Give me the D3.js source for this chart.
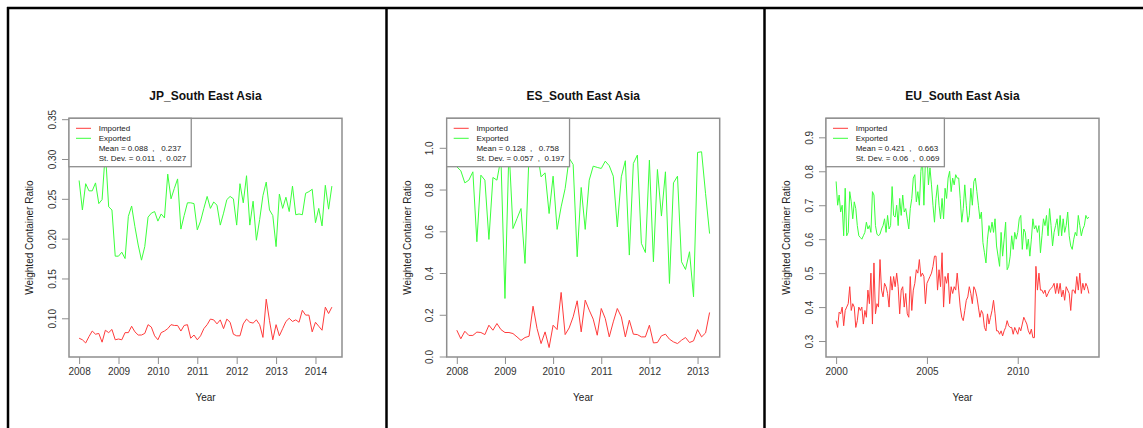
<!DOCTYPE html>
<html>
<head>
<meta charset="utf-8">
<script src="https://cdn.jsdelivr.net/npm/d3@7"></script>
<style>
  body { margin: 0; background: #fff; }
  text { font-family: "Liberation Sans", Arial, Helvetica, sans-serif; }
</style>
</head>
<body>
<script>
// Panel titles, first month of each series and the legend statistics.
const titles = ["JP_South East Asia", "ES_South East Asia", "EU_South East Asia"];
const startYears = [2008, 2008, 2000];
const meanText = ["Mean = 0.088  ,   0.237", "Mean = 0.128  ,   0.758", "Mean = 0.421  ,   0.663"];
const sdText = ["St. Dev. = 0.011  ,  0.027", "St. Dev. = 0.057  ,  0.197", "St. Dev. = 0.06  ,  0.069"];

// Axis ticks of each panel.
const xTicks = [[2008, 2009, 2010, 2011, 2012, 2013, 2014], [2008, 2009, 2010, 2011, 2012, 2013], [2000, 2005, 2010]];
const yTicks = [[0.10, 0.15, 0.20, 0.25, 0.30, 0.35], [0.0, 0.2, 0.4, 0.6, 0.8, 1.0], [0.3, 0.4, 0.5, 0.6, 0.7, 0.8, 0.9]];
const yFormats = [".2f", ".1f", ".1f"];
const yLimits = [[0.0625, 0.340], [0.040, 1.099], [0.279, 0.930]];

// Monthly weighted container ratios.
const jpImported = [0.075, 0.073, 0.069, 0.077, 0.084, 0.080, 0.081, 0.070, 0.085, 0.082, 0.086, 0.073,
  0.074, 0.073, 0.082, 0.082, 0.090, 0.083, 0.079, 0.079, 0.081, 0.092, 0.089, 0.078,
  0.073, 0.082, 0.084, 0.087, 0.092, 0.091, 0.091, 0.084, 0.091, 0.092, 0.075, 0.079,
  0.073, 0.078, 0.087, 0.092, 0.099, 0.098, 0.093, 0.098, 0.087, 0.099, 0.095, 0.080,
  0.078, 0.078, 0.093, 0.099, 0.095, 0.094, 0.098, 0.092, 0.076, 0.124, 0.097, 0.073,
  0.092, 0.078, 0.087, 0.096, 0.100, 0.096, 0.098, 0.095, 0.110, 0.104, 0.104, 0.083,
  0.095, 0.090, 0.085, 0.114, 0.106, 0.114];
const jpExported = [0.273, 0.236, 0.269, 0.260, 0.260, 0.270, 0.244, 0.249, 0.310, 0.240, 0.236, 0.178,
  0.178, 0.183, 0.175, 0.228, 0.241, 0.215, 0.192, 0.173, 0.190, 0.227, 0.232, 0.234,
  0.222, 0.231, 0.226, 0.281, 0.250, 0.263, 0.275, 0.212, 0.229, 0.245, 0.245, 0.244,
  0.211, 0.222, 0.238, 0.253, 0.238, 0.246, 0.242, 0.217, 0.232, 0.249, 0.253, 0.250,
  0.217, 0.269, 0.245, 0.279, 0.217, 0.247, 0.198, 0.224, 0.254, 0.271, 0.236, 0.229,
  0.190, 0.256, 0.238, 0.252, 0.234, 0.266, 0.230, 0.231, 0.230, 0.257, 0.259, 0.262,
  0.220, 0.238, 0.216, 0.267, 0.237, 0.266];

const esImported = [0.126, 0.085, 0.121, 0.101, 0.101, 0.117, 0.115, 0.105, 0.150, 0.126, 0.158, 0.129,
  0.115, 0.115, 0.110, 0.094, 0.077, 0.091, 0.097, 0.241, 0.134, 0.062, 0.118, 0.043,
  0.150, 0.129, 0.307, 0.105, 0.137, 0.190, 0.267, 0.118, 0.270, 0.222, 0.179, 0.102,
  0.230, 0.182, 0.094, 0.166, 0.230, 0.190, 0.094, 0.174, 0.107, 0.105, 0.094, 0.094,
  0.150, 0.065, 0.067, 0.099, 0.107, 0.083, 0.070, 0.062, 0.078, 0.091, 0.067, 0.075,
  0.129, 0.094, 0.113, 0.211];
const esExported = [0.909, 0.890, 0.832, 0.845, 0.885, 0.550, 0.869, 0.845, 0.561, 0.858, 0.845, 0.950,
  0.278, 1.000, 0.613, 0.661, 0.709, 0.446, 0.970, 1.050, 0.990, 0.861, 0.880, 0.685,
  0.864, 0.609, 0.717, 0.805, 0.950, 0.920, 0.478, 0.810, 0.609, 0.845, 0.912, 0.906,
  0.901, 0.936, 0.914, 0.864, 0.621, 0.861, 0.938, 0.486, 0.925, 0.965, 0.542, 0.498,
  0.941, 0.454, 0.896, 0.673, 0.885, 0.350, 0.832, 0.864, 0.454, 0.417, 0.502, 0.286,
  0.978, 0.981, 0.780, 0.589];

const euImported = [0.36, 0.34, 0.385, 0.38, 0.40, 0.345, 0.39, 0.40, 0.41, 0.46, 0.39, 0.41,
  0.40, 0.34, 0.36, 0.40, 0.39, 0.40, 0.35, 0.39, 0.37, 0.45, 0.41, 0.50,
  0.35, 0.53, 0.38, 0.41, 0.40, 0.54, 0.45, 0.43, 0.47, 0.46, 0.44, 0.40,
  0.49, 0.45, 0.49, 0.46, 0.50, 0.46, 0.38, 0.45, 0.46, 0.40, 0.44, 0.38,
  0.37, 0.49, 0.39, 0.45, 0.47, 0.51, 0.50, 0.54, 0.49, 0.50, 0.49, 0.41,
  0.47, 0.48, 0.49, 0.50, 0.52, 0.55, 0.55, 0.45, 0.51, 0.46, 0.56, 0.40,
  0.49, 0.47, 0.50, 0.41, 0.46, 0.44, 0.46, 0.45, 0.50, 0.45, 0.40, 0.37,
  0.36, 0.39, 0.42, 0.43, 0.46, 0.44, 0.41, 0.46, 0.45, 0.43, 0.40, 0.37,
  0.39, 0.38, 0.34, 0.33, 0.38, 0.35, 0.37, 0.39, 0.42, 0.38, 0.33, 0.33,
  0.32, 0.33, 0.315, 0.33, 0.34, 0.36, 0.345, 0.34, 0.34, 0.32, 0.34, 0.33,
  0.32, 0.34, 0.33, 0.35, 0.37, 0.36, 0.35, 0.33, 0.32, 0.335, 0.31, 0.31,
  0.52, 0.45, 0.50, 0.45, 0.45, 0.44, 0.45, 0.43, 0.44, 0.45, 0.455, 0.46,
  0.47, 0.44, 0.47, 0.44, 0.47, 0.43, 0.45, 0.42, 0.46, 0.45, 0.44, 0.39,
  0.45, 0.45, 0.44, 0.49, 0.45, 0.50, 0.44, 0.47, 0.45, 0.47, 0.46, 0.44];
const euExported = [0.77, 0.70, 0.73, 0.68, 0.70, 0.61, 0.75, 0.61, 0.62, 0.74, 0.71, 0.66,
  0.71, 0.69, 0.64, 0.61, 0.605, 0.60, 0.61, 0.62, 0.65, 0.63, 0.64, 0.62,
  0.74, 0.73, 0.64, 0.615, 0.61, 0.615, 0.63, 0.64, 0.66, 0.62, 0.67, 0.63,
  0.64, 0.755, 0.67, 0.665, 0.70, 0.64, 0.72, 0.67, 0.73, 0.68, 0.69, 0.66,
  0.63, 0.69, 0.72, 0.78, 0.79, 0.71, 0.74, 0.70, 0.80, 0.84, 0.70, 0.83,
  0.85, 0.76, 0.81, 0.76, 0.70, 0.65, 0.72, 0.76, 0.70, 0.66, 0.72, 0.66,
  0.75, 0.72, 0.78, 0.80, 0.74, 0.78, 0.76, 0.79, 0.78, 0.78, 0.72, 0.65,
  0.69, 0.76, 0.70, 0.65, 0.67, 0.75, 0.70, 0.77, 0.78, 0.74, 0.70, 0.66,
  0.68, 0.59, 0.56, 0.53, 0.60, 0.64, 0.62, 0.65, 0.62, 0.66, 0.58, 0.55,
  0.52, 0.62, 0.55, 0.60, 0.65, 0.51, 0.52, 0.55, 0.61, 0.57, 0.62, 0.60,
  0.62, 0.66, 0.67, 0.57, 0.63, 0.62, 0.57, 0.60, 0.55, 0.60, 0.66, 0.63,
  0.64, 0.62, 0.64, 0.56, 0.61, 0.66, 0.64, 0.67, 0.61, 0.69, 0.64, 0.58,
  0.62, 0.64, 0.66, 0.61, 0.67, 0.61, 0.66, 0.62, 0.64, 0.68, 0.61, 0.58,
  0.57, 0.60, 0.62, 0.61, 0.67, 0.64, 0.61, 0.63, 0.64, 0.67, 0.66, 0.665];

const importedSeries = [jpImported, esImported, euImported];
const exportedSeries = [jpExported, esExported, euExported];

const W = 1143, H = 428;
const boxLefts = [69, 446.7, 826];
const boxW = 273, boxTop = 118.3, boxBottom = 357;
const importColor = "#ff3b3b", exportColor = "#3bff3b";
const boxColor = "#8e8e8e", labelColor = "#333";

const svg = d3.select("body").append("svg")
  .attr("width", W)
  .attr("height", H);

// R style axis range: data range stretched by 4% on each side.
function rRange(lo, hi) {
  const pad = (hi - lo) * 0.04;
  return [lo - pad, hi + pad];
}

titles.forEach((title, p) => {
  const left = boxLefts[p];
  const imp = importedSeries[p], exp = exportedSeries[p];
  const n = imp.length;
  const x = d3.scaleLinear()
    .domain(rRange(startYears[p], startYears[p] + (n - 1) / 12))
    .range([left, left + boxW]);
  const y = d3.scaleLinear()
    .domain(rRange(yLimits[p][0], yLimits[p][1]))
    .range([boxBottom, boxTop]);

  const g = svg.append("g");

  // series lines
  const line = d3.line()
    .x((d, i) => x(startYears[p] + i / 12))
    .y(d => y(d));

  g.append("path").datum(imp)
    .attr("fill", "none").attr("stroke", importColor).attr("stroke-width", 1)
    .attr("d", line);
  g.append("path").datum(exp)
    .attr("fill", "none").attr("stroke", exportColor).attr("stroke-width", 1)
    .attr("d", line);

  // x axis
  const xAxis = g.append("g")
    .attr("transform", `translate(0,${boxBottom})`)
    .call(d3.axisBottom(x).tickValues(xTicks[p]).tickFormat(d3.format("d")).tickSize(7).tickPadding(4));
  xAxis.select(".domain").remove();
  xAxis.selectAll("line").attr("stroke", boxColor);
  xAxis.selectAll("text").attr("fill", labelColor).attr("font-size", 10)
    .attr("font-family", "'Liberation Sans', Arial, sans-serif");

  // y axis with labels parallel to the axis
  const yAxis = g.append("g")
    .attr("transform", `translate(${left},0)`)
    .call(d3.axisLeft(y).tickValues(yTicks[p]).tickFormat(d3.format(yFormats[p])).tickSize(7));
  yAxis.select(".domain").remove();
  yAxis.selectAll("line").attr("stroke", boxColor);
  yAxis.selectAll("text")
    .attr("fill", labelColor).attr("font-size", 10)
    .attr("font-family", "'Liberation Sans', Arial, sans-serif")
    .attr("x", null).attr("dy", null)
    .attr("text-anchor", "middle")
    .attr("transform", "translate(-13.5,0) rotate(-90)");

  // plot box
  g.append("rect")
    .attr("x", left).attr("y", boxTop)
    .attr("width", boxW).attr("height", boxBottom - boxTop)
    .attr("fill", "none").attr("stroke", boxColor).attr("stroke-width", 1.5);

  // title and axis titles
  g.append("text")
    .attr("x", left + boxW / 2).attr("y", 100)
    .attr("text-anchor", "middle")
    .attr("font-size", 12).attr("font-weight", "bold").attr("fill", "#111")
    .text(title);
  g.append("text")
    .attr("x", left + boxW / 2).attr("y", 401)
    .attr("text-anchor", "middle")
    .attr("font-size", 10).attr("fill", "#222")
    .text("Year");
  g.append("text")
    .attr("transform", `translate(${left - 36},${(boxTop + boxBottom) / 2}) rotate(-90)`)
    .attr("text-anchor", "middle")
    .attr("font-size", 10).attr("fill", "#222")
    .text("Weighted Container Ratio");

  // legend, white box over the lines
  const lg = g.append("g").attr("transform", `translate(${left},${boxTop})`);
  const lgBox = lg.append("rect")
    .attr("x", 0).attr("y", 0).attr("height", 48.4)
    .attr("fill", "#fff").attr("stroke", boxColor).attr("stroke-width", 1.3);
  const rows = ["Imported", "Exported", meanText[p], sdText[p]];
  const texts = lg.selectAll("text.lg").data(rows).enter().append("text")
    .attr("class", "lg")
    .attr("x", 29.7).attr("y", (d, i) => 12.8 + i * 10)
    .attr("font-size", 8).attr("fill", "#222")
    .style("white-space", "pre")
    .text(d => d);
  [importColor, exportColor].forEach((c, i) => {
    lg.append("line")
      .attr("x1", 7).attr("x2", 22)
      .attr("y1", 10 + i * 10).attr("y2", 10 + i * 10)
      .attr("stroke", c).attr("stroke-width", 1);
  });
  let maxLen = 0;
  texts.each(function() { maxLen = Math.max(maxLen, this.getComputedTextLength()); });
  lgBox.attr("width", 29.7 + maxLen + 5);
});

// black frame of the three cells
svg.append("line")
  .attr("x1", 7).attr("x2", W).attr("y1", 8).attr("y2", 8)
  .attr("stroke", "#000").attr("stroke-width", 2.5);
[8, 386.5, 764.5].forEach(fx => {
  svg.append("line")
    .attr("x1", fx).attr("x2", fx).attr("y1", 7).attr("y2", H)
    .attr("stroke", "#000").attr("stroke-width", 2.5);
});
</script>
</body>
</html>
